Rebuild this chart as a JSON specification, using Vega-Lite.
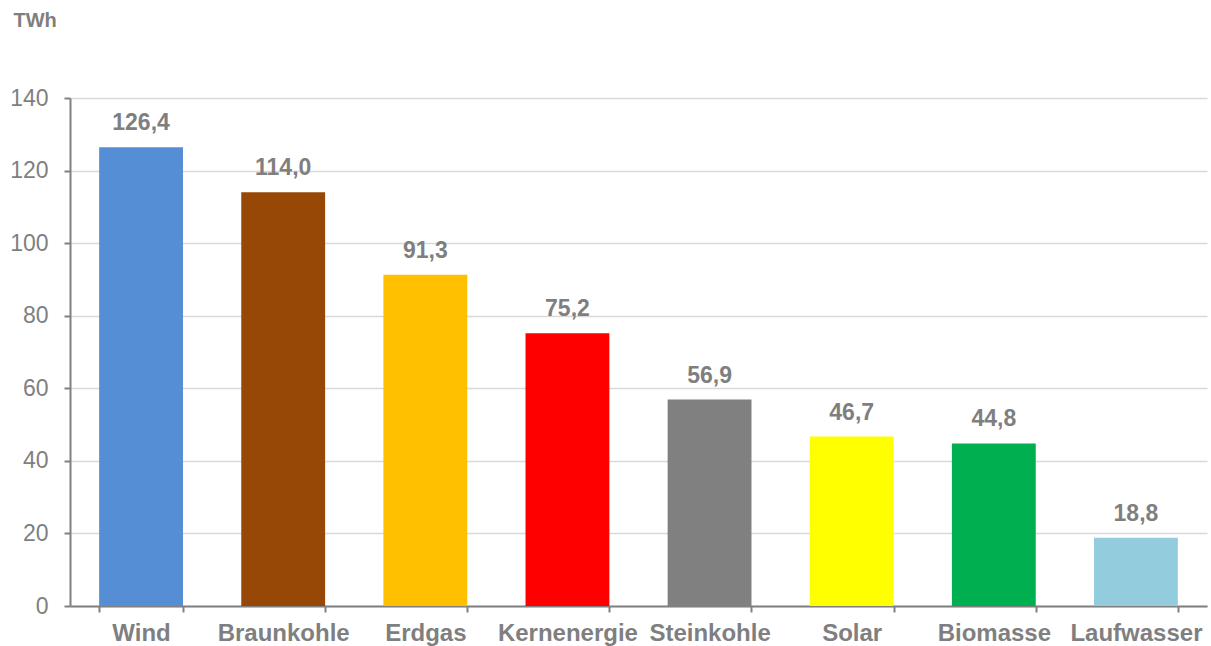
{
  "$schema": "https://vega.github.io/schema/vega-lite/v6.json",
  "width": 1137,
  "height": 508,
  "autosize": {"type": "none"},
  "padding": {"left": 70, "top": 98, "right": 4, "bottom": 40},
  "background": "white",
  "config": {
    "view": {"stroke": null},
    "font": "Liberation Sans",
    "locale": {"number": {"decimal": ",", "thousands": ".", "grouping": [3], "currency": ["", " €"]}}
  },
  "data": {
    "values": [
      {"Energietraeger": "Wind", "TWh": 126.4, "color": "#558ED5"},
      {"Energietraeger": "Braunkohle", "TWh": 114.0, "color": "#974706"},
      {"Energietraeger": "Erdgas", "TWh": 91.3, "color": "#FFC000"},
      {"Energietraeger": "Kernenergie", "TWh": 75.2, "color": "#FF0000"},
      {"Energietraeger": "Steinkohle", "TWh": 56.9, "color": "#808080"},
      {"Energietraeger": "Solar", "TWh": 46.7, "color": "#FFFF00"},
      {"Energietraeger": "Biomasse", "TWh": 44.8, "color": "#00B050"},
      {"Energietraeger": "Laufwasser", "TWh": 18.8, "color": "#93CDDD"}
    ]
  },
  "encoding": {
    "x": {
      "field": "Energietraeger",
      "type": "nominal",
      "sort": null,
      "scale": {"paddingInner": 0.41, "paddingOuter": 0.205},
      "axis": {
        "title": null,
        "labelAngle": 0,
        "labelFont": "Liberation Sans",
        "labelFontSize": 24,
        "labelFontWeight": "bold",
        "labelColor": "#7f7f7f",
        "labelPadding": 9,
        "labelOverlap": false,
        "labelLimit": 0,
        "labelBaseline": "top",
        "tickBand": "extent",
        "tickSize": 6,
        "tickWidth": 2,
        "tickColor": "#808080",
        "domainColor": "#808080",
        "domainWidth": 2,
        "grid": false
      }
    },
    "y": {
      "field": "TWh",
      "type": "quantitative",
      "scale": {"domain": [0, 140], "nice": false},
      "axis": {
        "values": [0, 20, 40, 60, 80, 100, 120, 140],
        "title": "TWh",
        "titleAngle": 0,
        "titleAlign": "left",
        "titleBaseline": "middle",
        "titleX": -57,
        "titleY": -78,
        "titleFont": "Liberation Sans",
        "titleFontSize": 20,
        "titleFontWeight": "bold",
        "titleColor": "#7f7f7f",
        "labelFont": "Liberation Sans",
        "labelFontSize": 23,
        "labelColor": "#7f7f7f",
        "labelPadding": 16,
        "tickSize": 6,
        "tickWidth": 2,
        "tickColor": "#808080",
        "domainColor": "#808080",
        "domainWidth": 2,
        "grid": true,
        "gridColor": "#d9d9d9",
        "gridWidth": 1.3
      }
    }
  },
  "layer": [
    {
      "mark": {"type": "bar"},
      "encoding": {
        "color": {"field": "color", "type": "nominal", "scale": null, "legend": null}
      }
    },
    {
      "mark": {"type": "text", "dy": -17, "baseline": "alphabetic", "font": "Liberation Sans", "fontSize": 23, "fontWeight": "bold", "color": "#7f7f7f"},
      "encoding": {
        "text": {"field": "TWh", "type": "quantitative", "format": ".1f"}
      }
    }
  ]
}
